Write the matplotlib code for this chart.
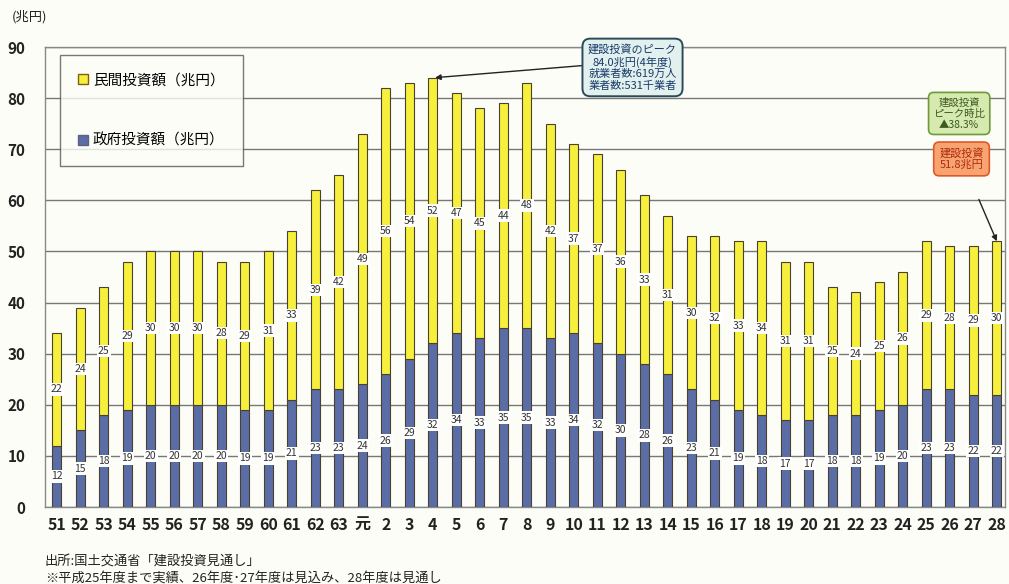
import matplotlib
matplotlib.use("Agg")
import matplotlib.pyplot as plt
from matplotlib.patches import Patch
import numpy as np

plt.rcParams['font.family'] = ['Noto Sans CJK JP', 'DejaVu Sans']

years = ["51", "52", "53", "54", "55", "56", "57", "58", "59", "60", "61", "62", "63", "元",
         "2", "3", "4", "5", "6", "7", "8", "9", "10", "11", "12", "13", "14", "15", "16",
         "17", "18", "19", "20", "21", "22", "23", "24", "25", "26", "27", "28"]
government = [12, 15, 18, 19, 20, 20, 20, 20, 19, 19, 21, 23, 23, 24,
              26, 29, 32, 34, 33, 35, 35, 33, 34, 32, 30, 28, 26, 23, 21,
              19, 18, 17, 17, 18, 18, 19, 20, 23, 23, 22, 22]
private = [22, 24, 25, 29, 30, 30, 30, 28, 29, 31, 33, 39, 42, 49,
           56, 54, 52, 47, 45, 44, 48, 42, 37, 37, 36, 33, 31, 30, 32,
           33, 34, 31, 31, 25, 24, 25, 26, 29, 28, 29, 30]
yticks = [0, 10, 20, 30, 40, 50, 60, 70, 80, 90]

legend_private = "民間投資額（兆円）"
legend_gov = "政府投資額（兆円）"
unit_label = "(兆円)"
peak_text = "建設投資のピーク\n84.0兆円(4年度)\n就業者数:619万人\n業者数:531千業者"
ratio_text = "建設投資\nピーク時比\n▲38.3%"
latest_text = "建設投資\n51.8兆円"
source_text = "出所:国土交通省「建設投資見通し」"
note_text = "※平成25年度まで実績、26年度･27年度は見込み、28年度は見通し"

W, H = 1009, 584
fig = plt.figure(figsize=(W / 100, H / 100), dpi=100)
fig.patch.set_facecolor("#fdfdf8")
ax = fig.add_axes([45 / W, (H - 507) / H, (1005 - 45) / W, (507 - 47) / H])
ax.set_facecolor("#fdfdf8")

x = np.arange(len(years))
gov = np.array(government)
pri = np.array(private)
yellow = "#f6ef3c"
blue = "#5a6da6"
edge = "#4a4030"
bw = 0.4

ax.bar(x, gov, width=bw, color=blue, edgecolor=edge, linewidth=0.8, zorder=3)
ax.bar(x, pri, bottom=gov, width=bw, color=yellow, edgecolor=edge, linewidth=0.8, zorder=3)

for xi, g, p in zip(x, gov, pri):
    ax.text(xi, g / 2, str(g), ha="center", va="center", fontsize=7.5, color="#333333",
            zorder=5, bbox=dict(boxstyle="square,pad=0.12", fc="white", ec="none"))
    ax.text(xi, g + p / 2, str(p), ha="center", va="center", fontsize=7.5, color="#333333",
            zorder=5, bbox=dict(boxstyle="square,pad=0.12", fc="white", ec="none"))

ax.set_ylim(0, 90)
ax.set_xlim(-0.5, 40.35)
ax.set_yticks(yticks)
ax.set_yticklabels([str(t) for t in yticks], fontsize=11, fontweight="bold", color="#222222")
ax.set_xticks(x)
ax.set_xticklabels(years, fontsize=11.5, fontweight="bold", color="#222222")
ax.tick_params(axis="both", length=0)
ax.tick_params(axis="y", pad=14)
ax.tick_params(axis="x", pad=7)
ax.yaxis.grid(True, color="#777777", linewidth=1.0, zorder=0)
for s in ax.spines.values():
    s.set_color("#888888")
    s.set_linewidth(1.0)

fig.text(12 / W, 1 - 17 / H, unit_label, fontsize=9.5, va="center", ha="left", color="#222222")

handles = [Patch(facecolor=yellow, edgecolor="#806010", label=legend_private),
           Patch(facecolor=blue, edgecolor="#606080", label=legend_gov)]
leg = ax.legend(handles=handles, loc="upper left", bbox_to_anchor=(15 / 960, 1 - 8 / 460),
                frameon=True, fancybox=False, fontsize=10.5, handlelength=0.7, handleheight=0.7,
                handletextpad=0.3, labelspacing=3.2, borderpad=1.25, borderaxespad=0)
leg.get_frame().set_edgecolor("#555555")
leg.get_frame().set_linewidth(1.0)
leg.get_frame().set_facecolor("#fdfdf8")

# peak annotation
peak_idx = 16
ax.annotate(peak_text, xy=(peak_idx + 0.1, gov[peak_idx] + pri[peak_idx]),
            xytext=(24.5, 86.0), ha="center", va="center", fontsize=8, color="#1a3a6a",
            linespacing=1.15, annotation_clip=False, multialignment="center",
            bbox=dict(boxstyle="round,pad=0.5,rounding_size=0.7", fc="#e2f1ee", ec="#2a4a5a", lw=1.4),
            arrowprops=dict(arrowstyle="-|>", color="#222222", lw=1.0, shrinkA=0, shrinkB=0,
                            relpos=(0.0, 0.55)),
            zorder=6)

ax.text(38.4, 77.0, ratio_text, ha="center", va="center", fontsize=7.5, color="#3a5a20",
        linespacing=1.15, zorder=6, multialignment="center",
        bbox=dict(boxstyle="round,pad=0.45,rounding_size=0.5", fc="#d6e9ae", ec="#6e9a3a", lw=1.2))
last = len(years) - 1
ax.annotate(latest_text, xy=(last, gov[last] + pri[last]), xytext=(38.5, 68.1),
            ha="center", va="center", fontsize=8, color="#b02a10", linespacing=1.2,
            multialignment="center",
            bbox=dict(boxstyle="round,pad=0.5,rounding_size=0.5", fc="#f7a470", ec="#e2562a", lw=1.2),
            arrowprops=dict(arrowstyle="-|>", color="#222222", lw=1.0, shrinkA=18, shrinkB=0),
            zorder=6)

fig.text(45 / W, 1 - 562 / H, source_text, fontsize=9.5, va="center", ha="left", color="#222222")
fig.text(45 / W, 1 - 578 / H, note_text, fontsize=9.5, va="center", ha="left", color="#222222")

fig.savefig("out.png", dpi=100, facecolor=fig.get_facecolor())
